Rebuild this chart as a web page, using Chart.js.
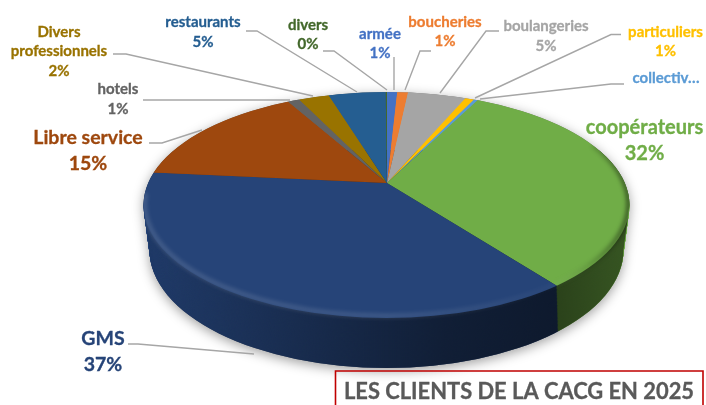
<!DOCTYPE html>
<html><head><meta charset="utf-8">
<style>html,body{margin:0;padding:0;background:#fff;overflow:hidden}canvas{display:block;filter:blur(0.3px)}</style>
<script src="https://cdn.jsdelivr.net/npm/chart.js@4"></script>
</head><body><canvas id="c" width="706" height="405"></canvas>
<script>
const categories = ['armée','boucheries','boulangeries','particuliers','collectiv…','coopérateurs','GMS','Libre service','hotels','Divers professionnels','restaurants','divers'];
const values = [0.8,0.85,4.6,0.7,0.3,32.4,36.6,15.4,0.93,2.4,4.5,0.1];
const percentLabels = ['1%','1%','5%','1%','','32%','37%','15%','1%','2%','5%','0%'];
const palette = ['#4472C4','#ED7D31','#A5A5A5','#FFC000','#5B9BD5','#70AD47','#264478','#9E480E','#636363','#997300','#255E91','#43682B'];
const titleText = 'LES CLIENTS DE LA CACG EN 2025';

// layout of annotations (index matches categories): text lines centre x, line centres y, font px, leader polyline
const annotations = [
 {x:380, ys:[34,53], size:15, line:[[394,57],[394,90]]},
 {x:445, ys:[22,41], size:15, line:[[431,51],[420,51],[405,90]]},
 {x:546, ys:[26,46], size:15, line:[[499,31],[486,31],[440,93]]},
 {x:665.5, ys:[32,51], size:15, line:[[621,34.5],[611,34.5],[475,98]]},
 {x:666, ys:[78], size:15, line:[[624,84],[611,84],[480,99]]},
 {x:644.5, ys:[127.5,153.5], size:20, line:null},
 {x:103, ys:[338.5,364.5], size:19.5, line:[[128,344],[138,344],[254,354]]},
 {x:88, ys:[137.5,163.5], size:19.5, line:[[149,143],[162,143],[202,130]]},
 {x:118, ys:[89,109], size:15, line:[[143,100],[290,100]]},
 {x:59, ys:[32,51,71], size:15, split:['Divers','professionnels'], line:[[113,54],[126,54],[313,96]]},
 {x:203, ys:[22,42], size:15, line:[[246,31],[257,31],[357,92]]},
 {x:308, ys:[25,44], size:15, line:[[323,51],[334,51],[387,90]]}
];

// pie geometry: perspective-like top ellipse and bottom ellipse with an off-centre apex
const top3d = {cx:386.5, cy:205, rx:243, ry:113};
const bot3d = {cx:386.5, cy:250, rx:237, ry:118};
const apex = {x:387, y:183};
const flatten = 0.45, reach = 330, depthSteps = 90;
const FONT = 'Lato, "Open Sans", sans-serif';

function ellipsePath(ctx, e){ctx.beginPath();ctx.ellipse(e.cx,e.cy,e.rx,e.ry,0,0,Math.PI*2);}
function lerpE(t){return {cx:top3d.cx,cy:top3d.cy+(bot3d.cy-top3d.cy)*t,rx:top3d.rx+(bot3d.rx-top3d.rx)*t,ry:top3d.ry+(bot3d.ry-top3d.ry)*t};}
function placeArcs(ctx, arcs, t){
  const R = arcs[0].outerRadius, c = {x:arcs[0].x,y:arcs[0].y};
  const k = (top3d.rx+(bot3d.rx-top3d.rx)*t)/top3d.rx;
  ctx.translate(apex.x, apex.y+(bot3d.cy-top3d.cy)*t);
  const s = reach/R*k;
  ctx.scale(s, s*flatten);
  ctx.translate(-c.x,-c.y);
}
function hullPath(ctx){
  ctx.beginPath();
  ctx.ellipse(top3d.cx,top3d.cy,top3d.rx,top3d.ry,0,Math.PI,Math.PI*2);
  ctx.lineTo(bot3d.cx+bot3d.rx,bot3d.cy);
  ctx.ellipse(bot3d.cx,bot3d.cy,bot3d.rx,bot3d.ry,0,0,Math.PI);
  ctx.closePath();
}
const pie3d = {
  id:'pie3d',
  beforeDatasetDraw(chart,args){
    const ctx = chart.ctx, arcs = chart.getDatasetMeta(0).data;
    // soft cast shadow
    ctx.save();
    ctx.shadowColor='rgba(0,0,0,.38)';ctx.shadowBlur=12;ctx.shadowOffsetY=3;ctx.fillStyle='#777';
    hullPath(ctx);ctx.fill();
    ctx.restore();
    // side wall: sweep of the same arcs
    for(let i=depthSteps;i>=1;i--){
      const t=i/depthSteps;
      ctx.save();
      ellipsePath(ctx,lerpE(t));ctx.clip();
      placeArcs(ctx,arcs,t);
      arcs.forEach(a=>a.draw(ctx));
      ctx.restore();
    }
    // wall shading
    ctx.save();
    hullPath(ctx);ctx.clip();
    const g=ctx.createLinearGradient(144,0,629,0);
    g.addColorStop(0,'rgba(0,0,0,.12)');
    g.addColorStop(.3,'rgba(0,0,0,.33)');
    g.addColorStop(.62,'rgba(0,0,0,.55)');
    g.addColorStop(.85,'rgba(0,0,0,.62)');
    g.addColorStop(1,'rgba(0,0,0,.5)');
    ctx.fillStyle=g;ctx.fillRect(130,150,510,230);
    ctx.restore();
    // top face
    ctx.save();
    ellipsePath(ctx,top3d);ctx.clip();
    placeArcs(ctx,arcs,0);
  },
  afterDatasetDraw(chart){
    const ctx=chart.ctx;
    ctx.restore();
    // bevel
    ctx.save();
    hullPath(ctx);ctx.clip();
    ctx.filter='blur(2px)';
    const h=ctx.createLinearGradient(144,0,629,0);
    h.addColorStop(0,'rgba(255,255,255,.16)');
    h.addColorStop(.5,'rgba(255,255,255,.14)');
    h.addColorStop(.83,'rgba(255,255,255,.03)');
    h.addColorStop(.92,'rgba(0,0,0,.15)');
    h.addColorStop(1,'rgba(0,0,0,.55)');
    ctx.strokeStyle=h;ctx.lineWidth=4;
    ctx.beginPath();ctx.ellipse(top3d.cx,top3d.cy-1,top3d.rx-1,top3d.ry-1,0,-0.55,Math.PI+0.1);ctx.stroke();
    ctx.restore();
  },
  afterDraw(chart){
    const ctx=chart.ctx;
    ctx.save();
    ctx.textAlign='center';ctx.textBaseline='middle';
    categories.forEach((name,i)=>{
      const a=annotations[i];
      if(a.line){
        ctx.strokeStyle='#A6A6A6';ctx.lineWidth=1.4;ctx.beginPath();
        a.line.forEach((p,j)=>j?ctx.lineTo(p[0],p[1]):ctx.moveTo(p[0],p[1]));ctx.stroke();
      }
      const lines=(a.split||[name]).concat(percentLabels[i]?[percentLabels[i]]:[]);
      ctx.fillStyle=palette[i];ctx.strokeStyle=palette[i];ctx.lineWidth=0.3;ctx.font='bold '+a.size+'px '+FONT;
      lines.forEach((s,j)=>{ctx.fillText(s,a.x,a.ys[j]);ctx.strokeText(s,a.x,a.ys[j]);});
    });
    // title box
    ctx.strokeStyle='#C00000';ctx.lineWidth=1.6;
    ctx.beginPath();ctx.moveTo(335.5,412);ctx.lineTo(335.5,371);ctx.lineTo(703,371);ctx.lineTo(703,412);ctx.stroke();
    ctx.fillStyle='#595959';ctx.strokeStyle='#595959';ctx.lineWidth=0.3;ctx.font='bold 21.9px '+FONT;
    ctx.fillText(titleText,519,392);ctx.strokeText(titleText,519,392);
    ctx.restore();
  }
};
new Chart(document.getElementById('c'),{
  type:'pie',
  data:{labels:categories,datasets:[{data:values,backgroundColor:palette,borderWidth:0,clip:false}]},
  options:{responsive:false,animation:false,
    plugins:{legend:{display:false},tooltip:{enabled:false},title:{display:false}}},
  plugins:[pie3d]
});
</script></body></html>
